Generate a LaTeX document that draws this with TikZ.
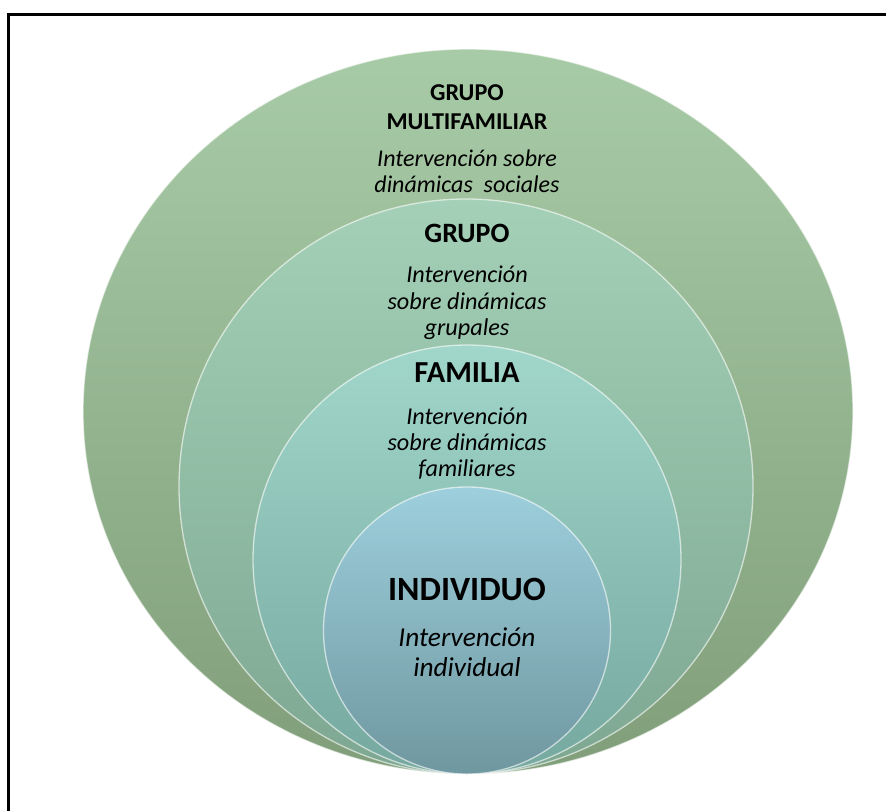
\documentclass[tikz,border=0pt]{standalone}
\usepackage{fontspec}
\setmainfont{Carlito}
\usetikzlibrary{shapes.geometric}
\definecolor{outerTop}{HTML}{A8CBA7}
\definecolor{outerBot}{HTML}{809E79}
\definecolor{grupoTop}{HTML}{A3D0B7}
\definecolor{grupoBot}{HTML}{7EA791}
\definecolor{famTop}{HTML}{A1D6CA}
\definecolor{famBot}{HTML}{75A89F}
\definecolor{indTop}{HTML}{9DCFDC}
\definecolor{indBot}{HTML}{6F97A0}
\begin{document}
\begin{tikzpicture}[x=1pt,y=-1pt,
  disc/.style={ellipse, inner sep=0pt, draw=white, draw opacity=0.6, line width=1.3pt},
  ttl/.style={anchor=base, inner sep=0pt, font=\bfseries},
  sub/.style={anchor=base, inner sep=0pt, font=\itshape}]
\useasboundingbox (0,0) rectangle (886,811);
% frame (only the left and top edges fall inside the picture)
\draw[line width=3pt] (8.5,811) -- (8.5,14.5) -- (886,14.5);
% nested discs
\node[disc, minimum width=770pt, minimum height=725pt, top color=outerTop, bottom color=outerBot] (outer) at (468,411.5) {};
\node[disc, minimum width=574pt, minimum height=575pt, top color=grupoTop, bottom color=grupoBot] (grupo) at (466,486.5) {};
\node[disc, minimum width=428pt, minimum height=429pt, top color=famTop, bottom color=famBot] (familia) at (467,559.5) {};
\node[disc, minimum width=287pt, minimum height=287pt, top color=indTop, bottom color=indBot] (individuo) at (467,630.5) {};
% texts: GRUPO MULTIFAMILIAR
\node[ttl, font=\bfseries\fontsize{24.2}{28}\selectfont] (t1a) at (467,100.5) {GRUPO};
\node[ttl, font=\bfseries\fontsize{24.2}{28}\selectfont] (t1b) at (467,129) {MULTIFAMILIAR};
\node[sub, font=\itshape\fontsize{24}{28}\selectfont] (s1a) at (467,166) {Intervención sobre};
\node[sub, font=\itshape\fontsize{24}{28}\selectfont] (s1b) at (467,192) {dinámicas\ \ sociales};
% GRUPO
\node[ttl, font=\bfseries\fontsize{28}{33}\selectfont] (t2) at (467,242.5) {GRUPO};
\node[sub, font=\itshape\fontsize{24.2}{28}\selectfont] (s2a) at (467,282.5) {Intervención};
\node[sub, font=\itshape\fontsize{24.2}{28}\selectfont] (s2b) at (467,309) {sobre dinámicas};
\node[sub, font=\itshape\fontsize{24.2}{28}\selectfont] (s2c) at (467,335) {grupales};
% FAMILIA
\node[ttl, font=\bfseries\fontsize{30.5}{36}\selectfont] (t3) at (467,382.5) {FAMILIA};
\node[sub, font=\itshape\fontsize{24.2}{28}\selectfont] (s3a) at (467,424) {Intervención};
\node[sub, font=\itshape\fontsize{24.2}{28}\selectfont] (s3b) at (467,450.5) {sobre dinámicas};
\node[sub, font=\itshape\fontsize{24.2}{28}\selectfont] (s3c) at (467,476.5) {familiares};
% INDIVIDUO
\node[ttl, font=\bfseries\fontsize{34}{40}\selectfont] (t4) at (467,600) {INDIVIDUO};
\node[sub, font=\itshape\fontsize{27.3}{32}\selectfont] (s4a) at (467,646.5) {Intervención};
\node[sub, font=\itshape\fontsize{27.3}{32}\selectfont] (s4b) at (467,676.5) {individual};
\end{tikzpicture}
\end{document}
